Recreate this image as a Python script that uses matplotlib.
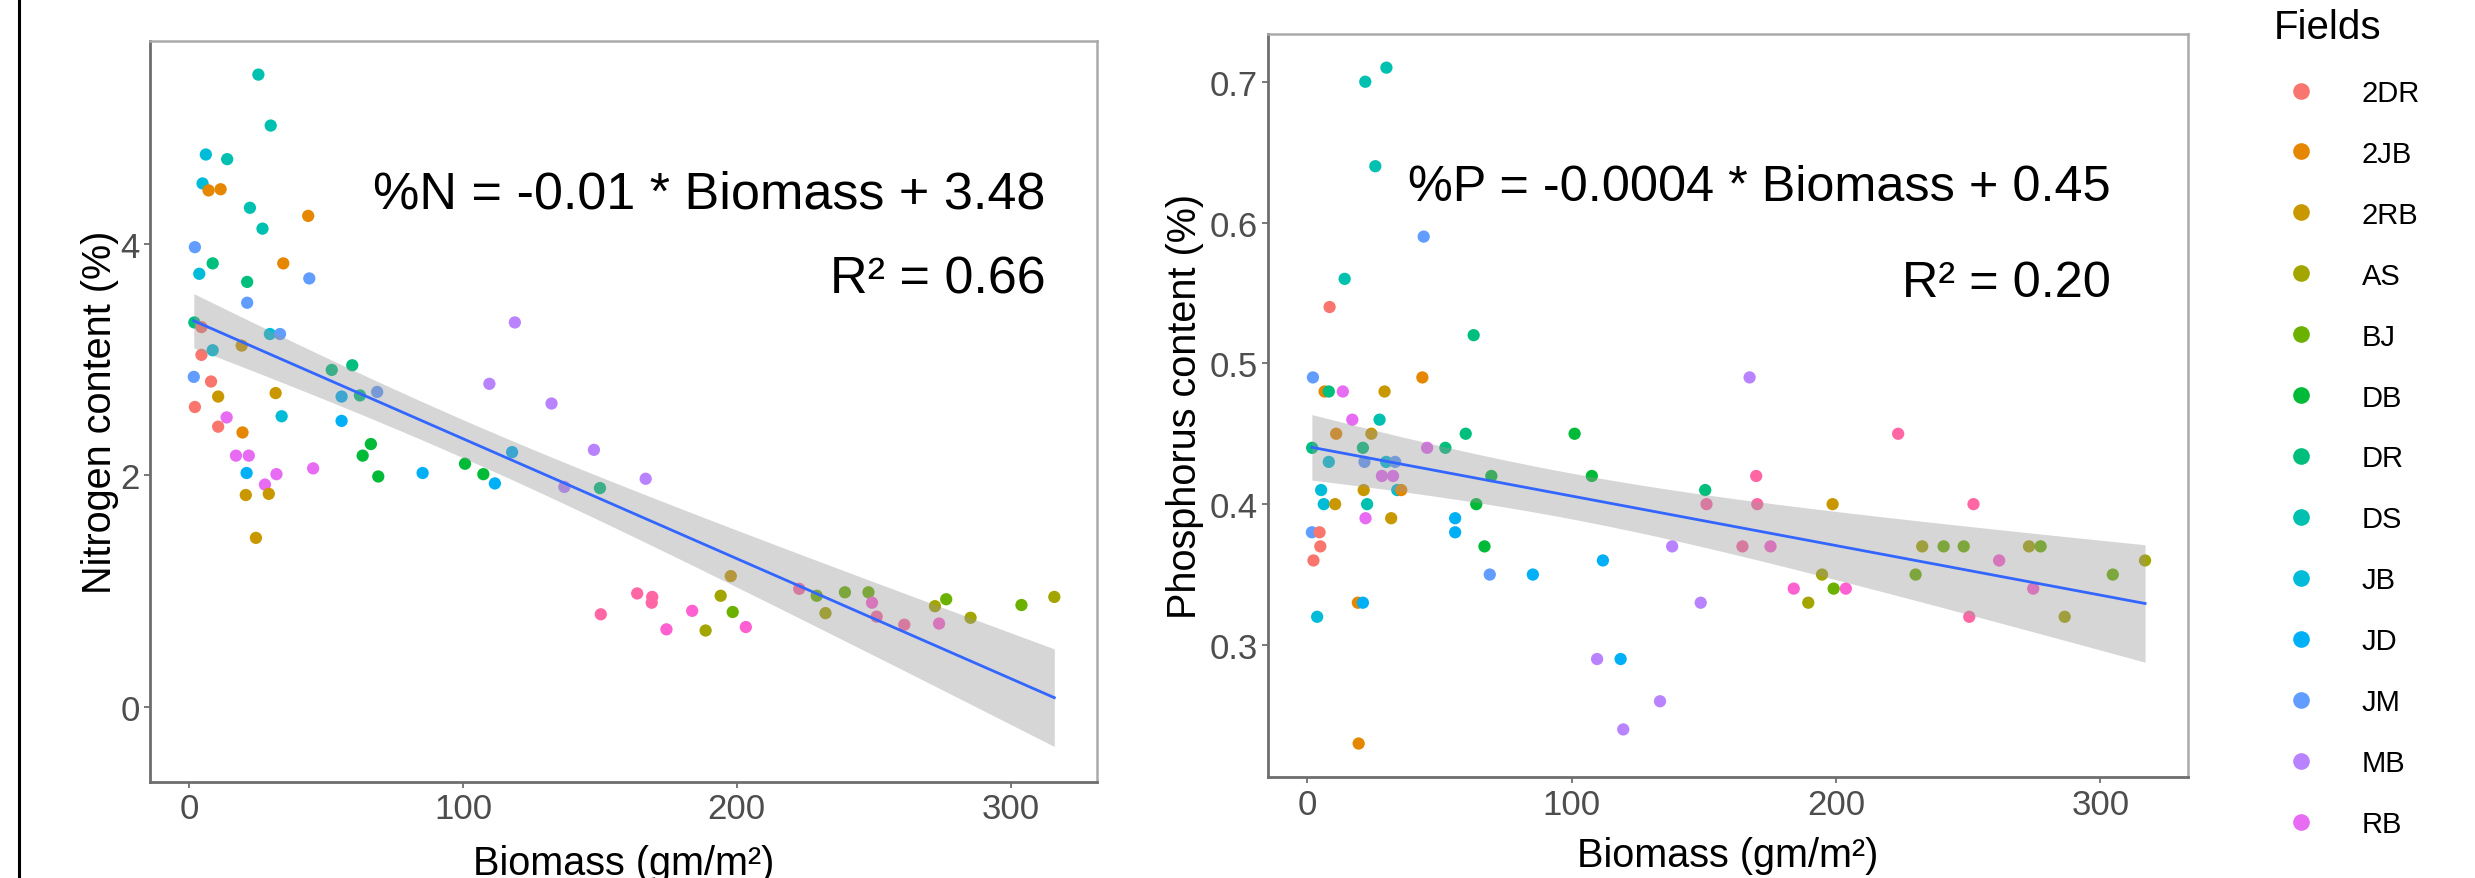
import numpy as np
import matplotlib
matplotlib.use('Agg')
import matplotlib.pyplot as plt
from matplotlib.lines import Line2D

plt.rcParams['font.family'] = ['Liberation Sans', 'DejaVu Sans']

# Fields (the last two are cut off in the original legend)
fields = ['2DR', '2JB', '2RB', 'AS', 'BJ', 'DB', 'DR', 'DS', 'JB', 'JD', 'JM', 'MB', 'RB', 'Field 14', 'Field 15']
field_colors = ['#F8766D', '#E58700', '#C99800', '#A3A500', '#6BB100', '#00BA38', '#00BF7D',
                '#00C0AF', '#00BCD8', '#00B0F6', '#619CFF', '#B983FF', '#E76BF3', '#FD61D1', '#FF67A4']
legend_fields = fields[:13]

# Nitrogen panel
n_field = ['DS', 'DS', 'JB', 'DS', 'JB', '2JB', '2JB', 'DS', 'DS', '2JB', 'JM', 'DR', 'JB', '2JB', 'DR', 'JM',
           'JM', 'DR', '2DR', 'JB', 'JM', '2RB', 'JB', '2DR', 'JM', '2DR', '2RB', '2RB', '2DR', 'RB', 'JB', '2DR',
           '2JB', 'RB', 'RB', 'JD', 'RB', 'RB', 'RB', '2RB', '2RB', '2RB', 'DR', 'DR', 'JD', 'DR', 'JM', 'JD',
           'DB', 'DB', 'DB', 'JD', 'DB', 'DB', 'JD', 'MB', 'MB', 'MB', 'JD', 'MB', 'MB', 'DR', 'MB',
           'Field 15', 'Field 15', 'Field 15', 'Field 15', 'Field 14', 'Field 14', 'AS', 'AS', '2RB', 'BJ',
           'Field 14', 'Field 15', 'BJ', 'AS', 'BJ', 'BJ', 'Field 14', 'Field 15', 'Field 15', 'AS', 'BJ',
           'Field 14', 'AS', 'BJ', 'AS']
n_biomass = [25.2, 29.7, 6.0, 13.8, 4.8, 7.0, 11.4, 22.1, 26.7, 43.4, 2.0, 8.5, 3.6, 34.3, 21.1, 43.8,
             21.1, 1.8, 4.4, 29.4, 33.1, 19.1, 8.5, 4.4, 1.6, 7.9, 10.5, 31.5, 2.0, 13.6, 33.7, 10.5,
             19.4, 17.0, 21.7, 20.9, 31.8, 27.6, 45.2, 20.6, 29.0, 24.3, 52.0, 59.5, 55.6, 62.3, 68.6, 55.6,
             66.3, 63.3, 69.0, 85.2, 100.7, 107.4, 111.6, 109.6, 118.9, 132.3, 117.9, 147.8, 137.0, 150.0, 166.7,
             150.3, 163.6, 169.1, 168.9, 174.3, 183.7, 188.6, 194.1, 197.8, 198.5,
             203.3, 222.8, 229.2, 232.4, 239.5, 248.1, 249.4, 251.1, 261.2, 272.4, 276.5,
             273.9, 285.4, 304.0, 316.0]
n_value = [5.46, 5.02, 4.77, 4.73, 4.52, 4.46, 4.47, 4.31, 4.13, 4.24, 3.97, 3.83, 3.74, 3.83, 3.67, 3.70,
           3.49, 3.32, 3.28, 3.22, 3.22, 3.12, 3.08, 3.04, 2.85, 2.81, 2.68, 2.71, 2.59, 2.50, 2.51, 2.42,
           2.37, 2.17, 2.17, 2.02, 2.01, 1.92, 2.06, 1.83, 1.84, 1.46, 2.91, 2.95, 2.68, 2.69, 2.72, 2.47,
           2.27, 2.17, 1.99, 2.02, 2.10, 2.01, 1.93, 2.79, 3.32, 2.62, 2.20, 2.22, 1.90, 1.89, 1.97,
           0.80, 0.98, 0.95, 0.90, 0.67, 0.83, 0.66, 0.96, 1.13, 0.82,
           0.69, 1.02, 0.96, 0.81, 0.99, 0.99, 0.90, 0.78, 0.71, 0.87, 0.93,
           0.72, 0.77, 0.88, 0.95]

# Phosphorus panel
p_field = ['DS', 'DS', 'DS', 'JM', 'DS', '2DR', 'DR', 'JM', '2JB', '2JB', 'DR', 'RB', '2RB', 'RB', 'DS', '2JB',
           '2RB', 'DR', 'DB', 'DR', 'DR', 'RB', 'DR', 'JB', 'JM', 'JB', 'JM', 'RB', 'RB', 'DB', 'DB', 'JB',
           '2RB', 'JB', '2JB', 'JB', '2RB', 'DS', 'DB', 'RB', '2RB', 'JD', 'JM', '2DR', 'JD', '2DR', 'DB',
           '2DR', 'JM', 'JD', '2JB', 'JD', 'JB', 'JD', 'MB', 'JD', 'MB', 'MB', 'MB', 'MB', 'DR', 'Field 15',
           '2JB', 'MB', 'Field 15', 'Field 15', 'Field 15', '2RB', 'Field 15', 'Field 15', 'Field 14', 'AS',
           'BJ', 'BJ', 'AS', 'BJ', 'Field 14', 'AS', 'AS', 'BJ', 'BJ', 'Field 14', 'BJ', 'Field 14',
           'Field 14', 'AS', 'Field 15', 'AS']
p_biomass = [21.9, 29.9, 25.7, 44.0, 14.1, 8.4, 62.9, 2.1, 43.5, 6.5, 8.1, 13.4, 29.2, 17.0, 27.3, 10.9,
             24.2, 59.9, 101.1, 1.8, 21.0, 45.3, 52.2, 8.1, 21.6, 29.8, 33.2, 28.2, 32.4, 69.6, 107.6, 5.2,
             21.3, 34.0, 35.5, 6.2, 10.5, 22.6, 63.9, 22.0, 31.7, 55.9, 1.7, 4.6, 55.9, 4.9, 67.0,
             2.3, 69.0, 85.3, 19.1, 21.0, 3.7, 111.8, 109.6, 118.5, 133.4, 119.5, 138.0, 148.8, 150.5, 151.0,
             19.4, 167.3, 223.5, 169.8, 170.2, 198.7, 252.0, 164.6, 175.2, 232.6,
             240.7, 248.3, 273.0, 277.4, 261.7, 316.9, 194.7, 230.1, 304.7, 184.0, 199.1, 203.7,
             274.6, 189.5, 250.4, 286.5]
p_value = [0.70, 0.71, 0.64, 0.59, 0.56, 0.54, 0.52, 0.49, 0.49, 0.48, 0.48, 0.48, 0.48, 0.46, 0.46, 0.45,
           0.45, 0.45, 0.45, 0.44, 0.44, 0.44, 0.44, 0.43, 0.43, 0.43, 0.43, 0.42, 0.42, 0.42, 0.42, 0.41,
           0.41, 0.41, 0.41, 0.40, 0.40, 0.40, 0.40, 0.39, 0.39, 0.39, 0.38, 0.38, 0.38, 0.37, 0.37,
           0.36, 0.35, 0.35, 0.33, 0.33, 0.32, 0.36, 0.29, 0.29, 0.26, 0.24, 0.37, 0.33, 0.41, 0.40,
           0.23, 0.49, 0.45, 0.42, 0.40, 0.40, 0.40, 0.37, 0.37, 0.37,
           0.37, 0.37, 0.37, 0.37, 0.36, 0.36, 0.35, 0.35, 0.35, 0.34, 0.34, 0.34,
           0.34, 0.33, 0.32, 0.32]

color_of = dict(zip(fields, field_colors))

fig = plt.figure(figsize=(24.75, 8.79), dpi=100)


def panel(rect, field, biomass, value, xlim, ylim, yticks, ylabel, eq, r2, eq_pos, r2_pos, eq_size,
          xlab_y, ylab_x):
    ax = fig.add_axes(rect)
    x = np.array(biomass)
    y = np.array(value)
    ax.scatter(x, y, s=78, c=[color_of[f] for f in field], linewidths=0, zorder=2)

    # linear fit with 95% confidence band (like geom_smooth(method = "lm"))
    b1, b0 = np.polyfit(x, y, 1)
    n = len(x)
    resid = y - (b0 + b1 * x)
    s = np.sqrt(np.sum(resid ** 2) / (n - 2))
    xg = np.linspace(x.min(), x.max(), 100)
    yg = b0 + b1 * xg
    se = s * np.sqrt(1 / n + (xg - x.mean()) ** 2 / np.sum((x - x.mean()) ** 2))
    ax.fill_between(xg, yg - 1.99 * se, yg + 1.99 * se, color='#999999', alpha=0.4, lw=0, zorder=3)
    ax.plot(xg, yg, color='#3366FF', lw=2, zorder=4)

    ax.set_xlim(xlim)
    ax.set_ylim(ylim)
    ax.set_xticks([0, 100, 200, 300])
    ax.set_yticks(yticks)
    ax.set_yticklabels([('%g' % t) for t in yticks])
    ax.tick_params(length=4.5, width=1.1, color='#555555', labelcolor='#4D4D4D', labelsize=25, pad=3)
    for side in ['left', 'bottom']:
        ax.spines[side].set_color('#6E6E6E')
        ax.spines[side].set_linewidth(2.0)
    for side in ['top', 'right']:
        ax.spines[side].set_color('#AAAAAA')
        ax.spines[side].set_linewidth(1.8)

    ax.set_xlabel('Biomass (gm/m²)', fontsize=28.5, color='black')
    ax.xaxis.label.set_va('baseline')
    ax.xaxis.set_label_coords(0.5, xlab_y)
    ax.set_ylabel(ylabel, fontsize=28.5, color='black')
    ax.yaxis.set_label_coords(ylab_x, 0.5)

    ax.text(eq_pos[0], eq_pos[1], eq, transform=ax.transAxes, ha='right', va='baseline', fontsize=eq_size)
    ax.text(r2_pos[0], r2_pos[1], r2, transform=ax.transAxes, ha='right', va='baseline', fontsize=eq_size)
    return ax


panel([150 / 2475, 1 - 783 / 879, 947 / 2475, 741 / 879], n_field, n_biomass, n_value,
      (-14.4, 331.6), (-0.648, 5.75), [0, 2, 4], 'Nitrogen content (%)',
      '%N = -0.01 * Biomass + 3.48', 'R² = 0.66', (0.9458, 0.7756), (0.9458, 0.6609), 37.5,
      (783 - 875) / 741, (119 - 150) / 947)

panel([1268 / 2475, 1 - 778.3 / 879, 919.6 / 2475, 743.3 / 879], p_field, p_biomass, p_value,
      (-14.9, 333.0), (0.206, 0.7339), [0.3, 0.4, 0.5, 0.6, 0.7], 'Phosphorus content (%)',
      '%P = -0.0004 * Biomass + 0.45', 'R² = 0.20', (0.9163, 0.7767), (0.9163, 0.6479), 36.3,
      (778.3 - 867) / 743.3, (1204 - 1268) / 919.6)

# legend
handles = [Line2D([], [], marker='o', ls='', markersize=12, markeredgewidth=0, color=color_of[f])
           for f in legend_fields]
fig.legend(handles, legend_fields, title='Fields', loc='upper left', bbox_to_anchor=(2274 / 2475, 0.990),
           frameon=False, fontsize=21, title_fontsize=29, labelspacing=1.13, handlelength=1.85,
           handletextpad=1.16, borderpad=0, borderaxespad=0, alignment='left')

# left frame line of the original figure
fig.add_artist(Line2D([19 / 2475, 19 / 2475], [0, 1], color='black', lw=2.2))

fig.savefig('out.png', dpi=100)
